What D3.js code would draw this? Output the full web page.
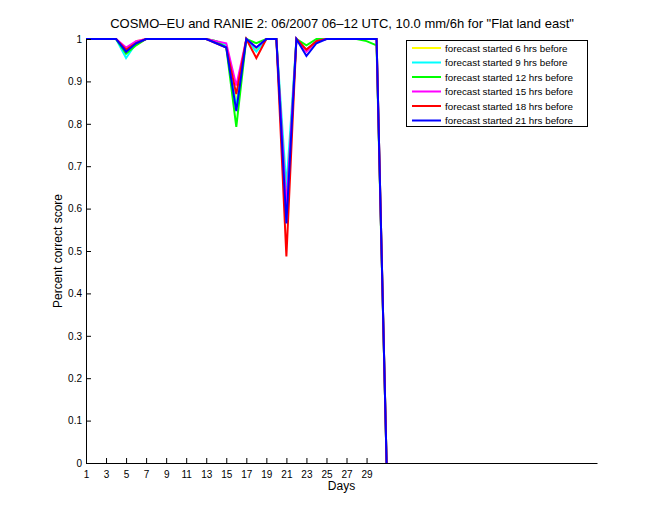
<!DOCTYPE html>
<html><head><meta charset="utf-8">
<script src="https://cdn.jsdelivr.net/npm/d3@7"></script>
<style>
body{margin:0;background:#fff;}
svg{display:block;font-family:"Liberation Sans",Arial,Helvetica,sans-serif;}
</style></head>
<body><svg id="chart" width="660" height="520"></svg>
<script>
const days = [1,2,3,4,5,6,7,8,9,10,11,12,13,14,15,16,17,18,19,20,21,22,23,24,25,26,27,28,29,30,31];
const s6  = [1,1,1,1,0.970,0.995,1,1,1,1,1,1,1,0.995,0.985,0.850,1,0.975,1,1,0.600,1,0.970,0.995,1,1,1,1,1,1,0];
const s9  = [1,1,1,1,0.955,0.990,1,1,1,1,1,1,1,0.995,0.985,0.840,1,0.970,1,1,0.650,1,0.975,0.995,1,1,1,1,1,1,0];
const s12 = [1,1,1,1,0.965,0.985,1,1,1,1,1,1,1,0.995,0.980,0.793,1,0.990,1,1,0.600,1,0.985,1,1,1,1,1,0.995,0.985,0];
const s15 = [1,1,1,1,0.980,0.995,1,1,1,1,1,1,1,0.995,0.990,0.890,1,0.980,1,1,0.600,1,0.970,0.995,1,1,1,1,1,1,0];
const s18 = [1,1,1,1,0.975,0.990,1,1,1,1,1,1,1,0.990,0.980,0.870,1,0.955,1,1,0.487,1,0.975,0.995,1,1,1,1,1,1,0];
const s21 = [1,1,1,1,0.970,0.990,1,1,1,1,1,1,1,0.990,0.980,0.830,1,0.980,1,1,0.565,1,0.960,0.990,1,1,1,1,1,1,0];
const seriesNames = ["forecast started 6 hrs before","forecast started 9 hrs before","forecast started 12 hrs before","forecast started 15 hrs before","forecast started 18 hrs before","forecast started 21 hrs before"];
const seriesValues = [s6,s9,s12,s15,s18,s21];
const colors = ["#ffff00","#00ffff","#00ff00","#ff00ff","#ff0000","#0000ff"];
const xTicks = [1,3,5,7,9,11,13,15,17,19,21,23,25,27,29];
const yTicks = [0,0.1,0.2,0.3,0.4,0.5,0.6,0.7,0.8,0.9,1];
const titleText = 'COSMO\u2013EU and RANIE 2: 06/2007 06\u201312 UTC, 10.0 mm/6h for "Flat land east"';

const svg = d3.select("#chart");
const L=86, R=597, T=39, B=463;
const x = d3.scaleLinear().domain([1,52]).range([L,R]);
const y = d3.scaleLinear().domain([0,1]).range([B,T]);

// lines
const line = d3.line().x((d,i)=>x(days[i])).y(d=>y(d));
seriesValues.forEach((vals,k)=>{
  svg.append("path").datum(vals).attr("d",line)
    .attr("fill","none").attr("stroke",colors[k]).attr("stroke-width",2)
    .attr("stroke-linejoin","miter");
});

// axes
const xAxis = d3.axisBottom(x).tickValues(xTicks).tickSizeInner(-5).tickSizeOuter(0).tickPadding(8).tickFormat(d3.format("d"));
const gx = svg.append("g").attr("transform",`translate(0,${B})`).call(xAxis);
const yAxis = d3.axisLeft(y).tickValues(yTicks).tickSizeInner(-5).tickSizeOuter(0).tickPadding(8).tickFormat(d=>d===0?"0":d===1?"1":d3.format(".1f")(d));
const gy = svg.append("g").attr("transform",`translate(${L},0)`).call(yAxis);
[gx,gy].forEach(g=>{
  g.selectAll("path.domain").attr("stroke","#000").attr("stroke-width",1);
  g.selectAll(".tick line").attr("stroke","#000");
  g.selectAll("text").attr("font-size",10).attr("fill","#000").attr("font-family","Liberation Sans, Arial, sans-serif");
});
gy.selectAll("text").attr("dx",4);

// labels
svg.append("text").attr("x",342).attr("y",28).attr("text-anchor","middle").attr("font-size",13).text(titleText);
svg.append("text").attr("x",341.5).attr("y",490).attr("text-anchor","middle").attr("font-size",12).text("Days");
svg.append("text").attr("transform","translate(62,251) rotate(-90)").attr("text-anchor","middle").attr("font-size",12).text("Percent correct score");

// legend
const lg = svg.append("g");
lg.append("rect").attr("x",406.5).attr("y",40.5).attr("width",181).attr("height",86).attr("fill","#fff").attr("stroke","#000");
seriesNames.forEach((n,k)=>{
  const yy = 48 + k*14.5;
  lg.append("line").attr("x1",412).attr("x2",441).attr("y1",yy).attr("y2",yy).attr("stroke",colors[k]).attr("stroke-width",2);
  lg.append("text").attr("x",445).attr("y",yy+3.5).attr("font-size",9.8).text(n);
});
</script></body></html>
